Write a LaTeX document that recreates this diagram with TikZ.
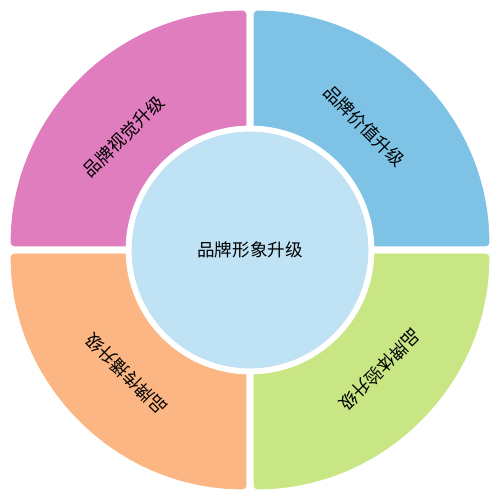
\documentclass[tikz,border=0pt]{standalone}
\usepackage{fontspec}
\newfontfamily\cjk{Noto Sans CJK SC}
\definecolor{visualpink}{RGB}{224,125,191}
\definecolor{valueblue}{RGB}{126,195,230}
\definecolor{experiencegreen}{RGB}{201,230,132}
\definecolor{spreadorange}{RGB}{251,182,131}
\definecolor{corelight}{RGB}{191,226,244}
\begin{document}
\begin{tikzpicture}[label/.style={font=\cjk\fontsize{10}{12}\selectfont, text=black}]
\def\cx{5};
\def\cy{5};
\def\g{0.08};
\def\R{4.7};
\def\rw{2.48};
\def\rc{2.36};

\useasboundingbox (0,0) rectangle (10,10);

% four quarters
\filldraw[fill=visualpink, draw=visualpink, rounded corners=2pt] (\cx-\g, \cy+\g) -- (\cx-\g-\R, \cy+\g) arc[start angle=180, end angle=90, radius=\R] -- cycle;
\filldraw[fill=valueblue, draw=valueblue, rounded corners=2pt] (\cx+\g, \cy+\g) -- (\cx+\g, \cy+\g+\R) arc[start angle=90, end angle=0, radius=\R] -- cycle;
\filldraw[fill=experiencegreen, draw=experiencegreen, rounded corners=2pt] (\cx+\g, \cy-\g) -- (\cx+\g+\R, \cy-\g) arc[start angle=0, end angle=-90, radius=\R] -- cycle;
\filldraw[fill=spreadorange, draw=spreadorange, rounded corners=2pt] (\cx-\g, \cy-\g) -- (\cx-\g, \cy-\g-\R) arc[start angle=-90, end angle=-180, radius=\R] -- cycle;

% core circle
\filldraw[fill=white, draw=white] (\cx, \cy) circle (\rw);
\filldraw[fill=corelight, draw=corelight] (\cx, \cy) circle (\rc);

\node[label] (core) at (\cx, \cy) {品牌形象升级};
\node[label, rotate=45] (visual) at (2.47, 7.27) {品牌视觉升级};
\node[label, rotate=-45] (value) at (7.28, 7.48) {品牌价值升级};
\node[label, rotate=225] (experience) at (7.6, 2.6) {品牌体验升级};
\node[label, rotate=135] (spread) at (2.52, 2.52) {品牌传播升级};

\end{tikzpicture}
\end{document}
